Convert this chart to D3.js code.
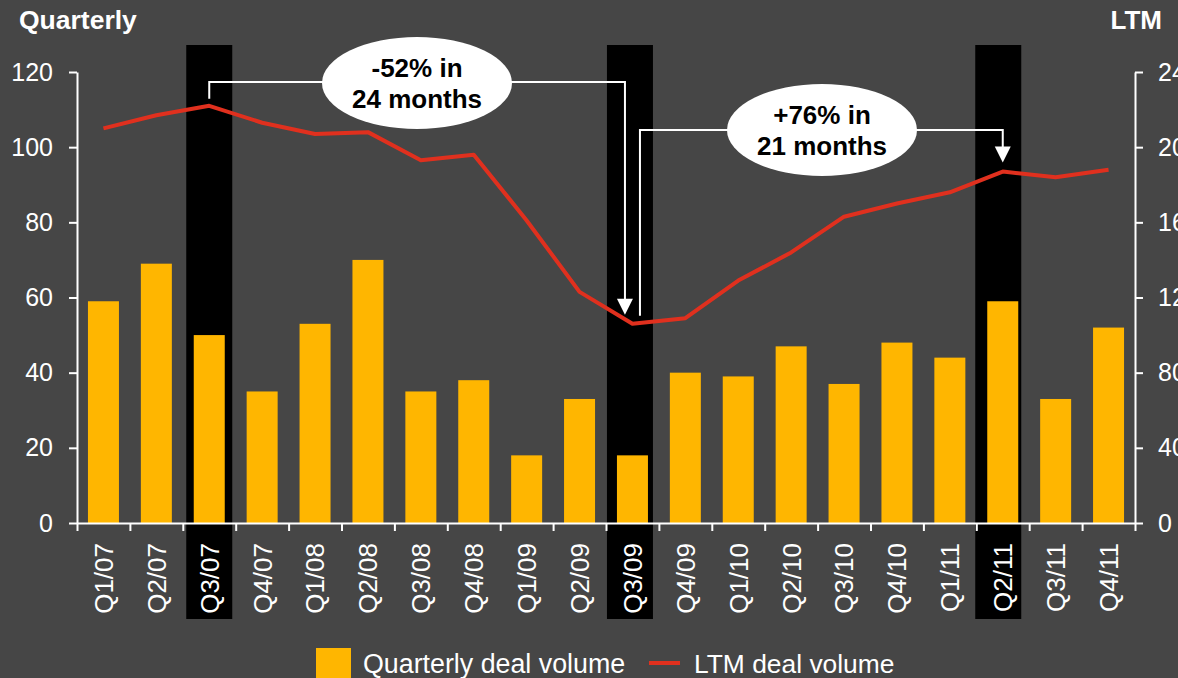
<!DOCTYPE html>
<html>
<head>
<meta charset="utf-8">
<script src="https://cdn.jsdelivr.net/npm/d3@7"></script>
<style>
  html, body { margin: 0; padding: 0; background: #464646; }
  svg { display: block; font-family: "Liberation Sans", Arial, sans-serif; }
</style>
</head>
<body>
<div id="chart"></div>
<script>
// quarters on the x axis
const quarters = ['Q1/07', 'Q2/07', 'Q3/07', 'Q4/07', 'Q1/08', 'Q2/08', 'Q3/08', 'Q4/08', 'Q1/09', 'Q2/09',
  'Q3/09', 'Q4/09', 'Q1/10', 'Q2/10', 'Q3/10', 'Q4/10', 'Q1/11', 'Q2/11', 'Q3/11', 'Q4/11'];

// quarterly deal volume (left axis)
const quarterlyVolume = [59, 69, 50, 35, 53, 70, 35, 38, 18, 33, 18, 40, 39, 47, 37, 48, 44, 59, 33, 52];

// LTM deal volume (right axis)
const ltmVolume = [210, 217, 222, 213, 207, 208, 193, 196, 161, 123, 106, 109, 129, 144, 163, 170, 176, 187, 184, 188];

// highlighted quarters (peak, trough, recovery)
const highlighted = ['Q3/07', 'Q3/09', 'Q2/11'];

const leftTicks = [0, 20, 40, 60, 80, 100, 120];
const rightTicks = [0, 40, 80, 120, 160, 200, 240];

const callouts = [
  { from: 'Q3/07', to: 'Q3/09', text: ['-52% in', '24 months'] },
  { from: 'Q3/09', to: 'Q2/11', text: ['+76% in', '21 months'] }
];

const legendLabels = ['Quarterly deal volume', 'LTM deal volume'];

const W = 1178, H = 678;
const margin = { top: 72, right: 43, bottom: 155, left: 77 };
const width = W - margin.left - margin.right;
const height = H - margin.top - margin.bottom;

const barColor = '#ffb600';
const lineColor = '#e0301e';

const svg = d3.select('#chart')
  .append('svg')
  .attr('width', W)
  .attr('height', H);

svg.append('rect').attr('width', W).attr('height', H).attr('fill', '#464646');

const g = svg.append('g')
  .attr('transform', 'translate(' + margin.left + ',' + margin.top + ')');

const x = d3.scaleBand()
  .domain(quarters)
  .range([0, width])
  .paddingInner(0.414)
  .paddingOuter(0.207);

const xEdges = d3.scaleLinear().domain([0, quarters.length]).range([0, width]);

const yL = d3.scaleLinear().domain([0, 120]).range([height, 0]);
const yR = d3.scaleLinear().domain([0, 240]).range([height, 0]);

const cx = q => x(q) + x.bandwidth() / 2;

// black highlight bands (slightly shifted left in the original)
const hlShift = [0, 2.5, 4.5];
g.selectAll('rect.hl')
  .data(highlighted)
  .enter().append('rect')
  .attr('class', 'hl')
  .attr('x', (d, i) => cx(d) - 23 - hlShift[i])
  .attr('width', 46)
  .attr('y', -27)
  .attr('height', height + 27 + 96)
  .attr('fill', '#000');

// bars
g.selectAll('rect.bar')
  .data(quarterlyVolume)
  .enter().append('rect')
  .attr('class', 'bar')
  .attr('x', (d, i) => x(quarters[i]))
  .attr('width', x.bandwidth())
  .attr('y', d => yL(d))
  .attr('height', d => height - yL(d))
  .attr('fill', barColor);

// LTM line
const line = d3.line()
  .x((d, i) => cx(quarters[i]))
  .y(d => yR(d));

g.append('path')
  .datum(ltmVolume)
  .attr('d', line)
  .attr('fill', 'none')
  .attr('stroke', lineColor)
  .attr('stroke-width', 4)
  .attr('stroke-linejoin', 'round');

// axes
const styleAxis = sel => {
  sel.selectAll('path, line').attr('stroke', '#fff').attr('stroke-width', 2);
  sel.selectAll('text').attr('fill', '#fff').style('font-size', '25px');
};

g.append('g')
  .call(d3.axisLeft(yL).tickValues(leftTicks).tickSize(8).tickSizeOuter(0).tickPadding(16))
  .call(styleAxis);

g.append('g')
  .attr('transform', 'translate(' + width + ',0)')
  .call(d3.axisRight(yR).tickValues(rightTicks).tickSize(8).tickSizeOuter(0).tickPadding(15))
  .call(styleAxis);

// x axis: boundary ticks
g.append('g')
  .attr('transform', 'translate(0,' + height + ')')
  .call(d3.axisBottom(xEdges).ticks(quarters.length).tickFormat('').tickSize(8).tickSizeOuter(0))
  .call(styleAxis);

// x axis: labels
const xLab = g.append('g')
  .attr('transform', 'translate(0,' + height + ')')
  .call(d3.axisBottom(x).tickSize(0).tickSizeOuter(0));
xLab.select('.domain').remove();
xLab.selectAll('text')
  .attr('fill', '#fff')
  .style('font-size', '26px')
  .attr('transform', 'rotate(-90)')
  .attr('x', -20)
  .attr('y', 0)
  .attr('dy', '0.36em')
  .style('text-anchor', 'end');

// callouts
const yLevels = [82 - margin.top, 130 - margin.top];
const ellipses = [{ x: 417, y: 83 }, { x: 822, y: 130 }];

callouts.forEach((c, k) => {
  const i0 = quarters.indexOf(c.from), i1 = quarters.indexOf(c.to);
  let x0, y0, x1;
  if (k === 0) {
    x0 = cx(c.from); y0 = yR(ltmVolume[i0]) - 7;
    x1 = cx(c.to) - 7.5;
  } else {
    x0 = cx(c.from) + 7.5; y0 = yR(ltmVolume[i0]) - 8;
    x1 = cx(c.to);
  }
  const tipY = yR(ltmVolume[i1]) - 9;
  const yl = yLevels[k];
  g.append('path')
    .attr('d', 'M' + x0 + ',' + y0 + 'V' + yl + 'H' + x1 + 'V' + (tipY - 14))
    .attr('fill', 'none')
    .attr('stroke', '#fff')
    .attr('stroke-width', 2);
  g.append('path')
    .attr('d', 'M' + (x1 - 8) + ',' + (tipY - 16) + 'L' + (x1 + 8) + ',' + (tipY - 16) + 'L' + x1 + ',' + tipY + 'Z')
    .attr('fill', '#fff');

  const e = ellipses[k];
  svg.append('ellipse')
    .attr('cx', e.x).attr('cy', e.y)
    .attr('rx', 95).attr('ry', 46)
    .attr('fill', '#fff');
  svg.append('text')
    .attr('x', e.x).attr('y', e.y - 6)
    .attr('text-anchor', 'middle')
    .style('font-size', '26px').style('font-weight', 'bold')
    .attr('fill', '#000')
    .text(c.text[0]);
  svg.append('text')
    .attr('x', e.x).attr('y', e.y + 25)
    .attr('text-anchor', 'middle')
    .style('font-size', '26px').style('font-weight', 'bold')
    .attr('fill', '#000')
    .text(c.text[1]);
});

// axis titles
svg.append('text')
  .attr('x', 19).attr('y', 29)
  .style('font-size', '26.5px').style('font-weight', 'bold')
  .attr('fill', '#fff')
  .text('Quarterly');

svg.append('text')
  .attr('x', 1162).attr('y', 29)
  .attr('text-anchor', 'end')
  .style('font-size', '26px').style('font-weight', 'bold')
  .attr('fill', '#fff')
  .text('LTM');

// legend
const legend = svg.append('g');
legend.append('rect')
  .attr('x', 316).attr('y', 648)
  .attr('width', 35).attr('height', 30)
  .attr('fill', barColor);
legend.append('text')
  .attr('x', 363).attr('y', 673)
  .style('font-size', '26.8px')
  .attr('fill', '#fff')
  .text(legendLabels[0]);
legend.append('line')
  .attr('x1', 649).attr('x2', 680)
  .attr('y1', 663).attr('y2', 663)
  .attr('stroke', lineColor)
  .attr('stroke-width', 4);
legend.append('text')
  .attr('x', 694).attr('y', 673)
  .style('font-size', '26.4px')
  .attr('fill', '#fff')
  .text(legendLabels[1]);
</script>
</body>
</html>
